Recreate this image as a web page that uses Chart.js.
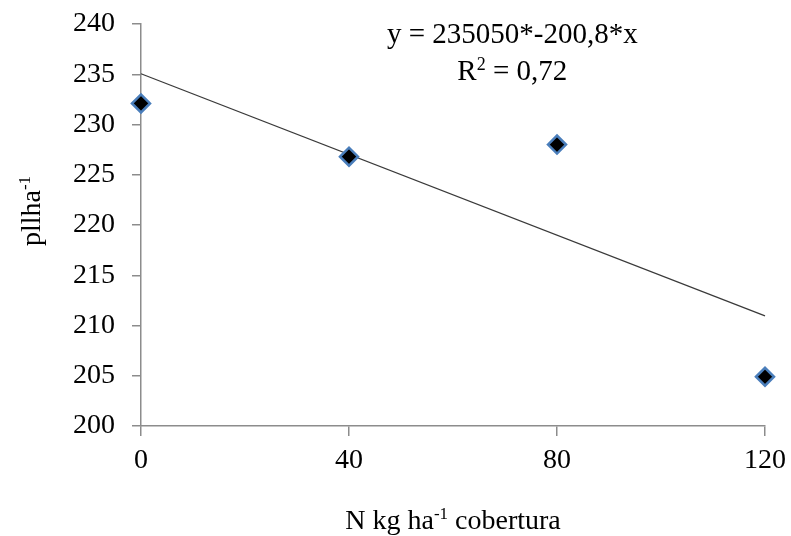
<!DOCTYPE html>
<html>
<head>
<meta charset="utf-8">
<title>pl ha-1 x N cobertura</title>
<script src="https://cdn.jsdelivr.net/npm/chart.js@4.4.0/dist/chart.umd.min.js"></script>
<style>
  html, body { margin: 0; padding: 0; background: #fff; }
  #wrap { width: 791px; height: 536px; }
</style>
</head>
<body>
<div id="wrap"><canvas id="plantChart" width="791" height="536"></canvas></div>
<script>
// N doses (kg/ha) and plant stand (pl/ha) for each dose
const doses = [0, 40, 80, 120];
const plantStand = [232.1, 226.8, 228.0, 204.9];

// axis ticks
const xTicks = [0, 40, 80, 120];
const yTicks = [200, 205, 210, 215, 220, 225, 230, 235, 240];

// fitted line from the equation shown on the chart (y = 235,050 - 0,2008x)
const trendIntercept = 235.05;
const trendSlope = -0.2008;
const trendR2 = "0,72";

const FONT = '"Liberation Serif", "Times New Roman", serif';
const AXIS_GRAY = "#8c8c8c";

const points = doses.map((d, i) => ({ x: d, y: plantStand[i] }));
const trendX = [doses[0], doses[doses.length - 1]];
const trendPoints = trendX.map(x => ({ x: x, y: trendIntercept + trendSlope * x }));

// draws a line of text made of normal and superscript pieces, centred on cx
function drawRich(ctx, parts, cx, baseline, size) {
  const supSize = Math.round(size * 0.62);
  let total = 0;
  parts.forEach(p => {
    ctx.font = (p.sup ? supSize : size) + "px " + FONT;
    p.w = ctx.measureText(p.t).width;
    total += p.w;
  });
  let x = cx - total / 2;
  ctx.textAlign = "left";
  ctx.textBaseline = "alphabetic";
  parts.forEach(p => {
    ctx.font = (p.sup ? supSize : size) + "px " + FONT;
    ctx.fillText(p.t, x, p.sup ? baseline - size * 0.36 : baseline);
    x += p.w;
  });
}

const labelsPlugin = {
  id: "axisText",
  afterDraw(chart) {
    const ctx = chart.ctx;
    const area = chart.chartArea;
    const xs = chart.scales.x;
    const ys = chart.scales.y;
    ctx.save();
    ctx.fillStyle = "#000";

    // equation and R²
    const eqX = area.left + (area.right - area.left) * 0.595;
    drawRich(ctx, [{ t: "y = 235050*-200,8*x" }], eqX, ys.getPixelForValue(238.1), 29);
    drawRich(ctx, [{ t: "R" }, { t: "2", sup: true }, { t: " = " + trendR2 }], eqX, ys.getPixelForValue(234.4), 29);

    // x axis title
    const xMid = (xs.left + xs.right) / 2;
    drawRich(ctx, [{ t: "N kg ha" }, { t: "-1", sup: true }, { t: " cobertura" }], xMid, xs.bottom - 7, 28);

    // y axis title, rotated
    ctx.translate(40, (ys.top + ys.bottom) / 2 - 14);
    ctx.rotate(-Math.PI / 2);
    drawRich(ctx, [{ t: "pllha" }, { t: "-1", sup: true }], 0, 0, 28);
    ctx.restore();
  }
};

new Chart(document.getElementById("plantChart"), {
  type: "scatter",
  data: {
    datasets: [
      {
        label: "pl ha-1",
        data: points,
        clip: false,
        pointStyle: "rectRot",
        pointRadius: 9,
        pointHoverRadius: 9,
        backgroundColor: "#000000",
        borderColor: "#4a7ebb",
        borderWidth: 2.5
      },
      {
        type: "line",
        label: "linear",
        data: trendPoints,
        clip: false,
        borderColor: "#3a3a3a",
        borderWidth: 1.3,
        pointRadius: 0,
        fill: false
      }
    ]
  },
  options: {
    responsive: false,
    animation: false,
    layout: { padding: { top: 24, right: 26, left: 0, bottom: 0 } },
    plugins: {
      legend: { display: false },
      tooltip: { enabled: false }
    },
    scales: {
      x: {
        type: "linear",
        min: 0,
        max: 120,
        afterBuildTicks: s => { s.ticks = xTicks.map(v => ({ value: v })); },
        afterFit: s => { s.height = 110; s.paddingLeft = 0; s.paddingRight = 0; },
        ticks: { color: "#000", font: { family: FONT, size: 28 }, padding: 8 },
        grid: { drawOnChartArea: false, drawTicks: true, tickLength: 10, color: AXIS_GRAY, lineWidth: 1.5 },
        border: { color: AXIS_GRAY, width: 1.5 }
      },
      y: {
        min: 200,
        max: 240,
        afterBuildTicks: s => { s.ticks = yTicks.map(v => ({ value: v })); },
        afterFit: s => { s.width = 141; s.paddingTop = 0; s.paddingBottom = 0; },
        ticks: { color: "#000", font: { family: FONT, size: 28 }, padding: 17 },
        grid: { drawOnChartArea: false, drawTicks: true, tickLength: 9, color: AXIS_GRAY, lineWidth: 1.5 },
        border: { color: AXIS_GRAY, width: 1.5 }
      }
    }
  },
  plugins: [labelsPlugin]
});
</script>
</body>
</html>
